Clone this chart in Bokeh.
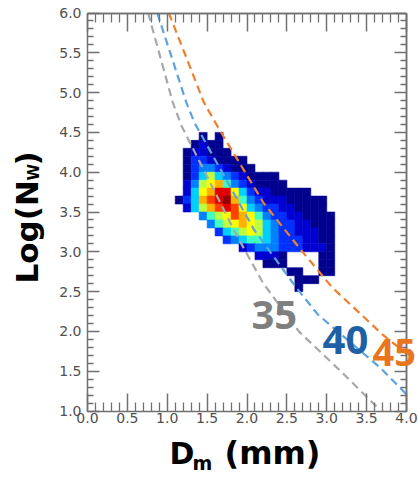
from math import pi
from bokeh.plotting import figure
from bokeh.models import Range1d, LinearAxis, FixedTicker, PrintfTickFormatter, Label
from bokeh.embed import file_html
from bokeh.resources import INLINE

# ---------------- data ----------------
# Dm bin edges (mm) and log10(Nw) bin edges (top -> bottom)
x_bin_edges = [1.1, 1.2, 1.3, 1.4, 1.5, 1.6, 1.7, 1.8, 1.9, 2.0, 2.1,
               2.2, 2.3, 2.4, 2.5, 2.6, 2.7, 2.8, 2.9, 3.0, 3.1]
y_bin_edges = [4.5, 4.4, 4.3, 4.2, 4.1, 4.0, 3.9, 3.8, 3.7, 3.6, 3.5,
               3.4, 3.3, 3.2, 3.1, 3.0, 2.9, 2.8, 2.7, 2.6, 2.5]

# occurrence level per bin (0 = empty, 1..12 = colour level), rows top -> bottom
density_levels = [
    [0, 0, 0, 1, 0, 1, 0, 0, 0, 0, 0, 0, 0, 0, 0, 0, 0, 0, 0, 0],
    [0, 0, 1, 2, 1, 1, 0, 0, 0, 0, 0, 0, 0, 0, 0, 0, 0, 0, 0, 0],
    [0, 1, 2, 2, 1, 1, 1, 0, 0, 0, 0, 0, 0, 0, 0, 0, 0, 0, 0, 0],
    [0, 1, 3, 3, 2, 1, 1, 1, 1, 0, 0, 0, 0, 0, 0, 0, 0, 0, 0, 0],
    [0, 1, 3, 4, 4, 3, 2, 1, 1, 1, 0, 0, 0, 0, 0, 0, 0, 0, 0, 0],
    [0, 1, 3, 5, 7, 5, 4, 3, 2, 1, 1, 1, 1, 0, 0, 0, 0, 0, 0, 0],
    [0, 2, 4, 7, 8, 9, 6, 4, 3, 2, 1, 1, 1, 1, 0, 0, 0, 0, 0, 0],
    [0, 2, 5, 8, 9, 11, 11, 8, 5, 3, 2, 2, 1, 1, 1, 1, 1, 0, 0, 0],
    [1, 3, 5, 9, 10, 11, 12, 9, 6, 4, 3, 2, 2, 2, 1, 1, 1, 1, 1, 0],
    [0, 2, 5, 7, 9, 10, 11, 10, 8, 5, 4, 3, 3, 2, 2, 1, 1, 1, 1, 0],
    [0, 0, 0, 4, 6, 7, 8, 10, 9, 8, 6, 4, 3, 3, 2, 2, 1, 1, 1, 1],
    [0, 0, 0, 0, 4, 6, 7, 8, 9, 8, 7, 5, 4, 3, 3, 2, 2, 1, 1, 1],
    [0, 0, 0, 0, 0, 3, 5, 6, 7, 8, 7, 5, 4, 3, 3, 2, 2, 2, 1, 1],
    [0, 0, 0, 0, 0, 0, 3, 4, 5, 6, 6, 5, 4, 3, 3, 3, 2, 2, 1, 1],
    [0, 0, 0, 0, 0, 0, 0, 0, 2, 3, 4, 4, 4, 3, 3, 3, 2, 2, 2, 1],
    [0, 0, 0, 0, 0, 0, 0, 0, 0, 0, 2, 2, 2, 1, 0, 0, 0, 0, 1, 1],
    [0, 0, 0, 0, 0, 0, 0, 0, 0, 0, 0, 1, 1, 1, 0, 0, 0, 0, 1, 1],
    [0, 0, 0, 0, 0, 0, 0, 0, 0, 0, 0, 0, 0, 0, 1, 1, 0, 0, 1, 1],
    [0, 0, 0, 0, 0, 0, 0, 0, 0, 0, 0, 0, 0, 0, 0, 1, 1, 1, 0, 0],
    [0, 0, 0, 0, 0, 0, 0, 0, 0, 0, 0, 0, 0, 0, 0, 1, 0, 0, 0, 0],
]

# constant-reflectivity curves (dBZ)
z35_dm = [0.76, 1.07, 1.175, 1.88, 2.2, 2.65, 3.175, 3.64]
z35_lognw = [6.0, 4.875, 4.59, 3.19, 2.61, 2.0, 1.5, 1.04]
z40_dm = [0.875, 1.24, 1.34, 2.09, 2.61, 2.89, 3.675, 4.0]
z40_lognw = [6.0, 4.875, 4.625, 3.275, 2.56, 2.21, 1.54, 1.21]
z45_dm = [1.02, 1.46, 1.61, 2.21, 2.675, 3.07, 3.7, 4.0]
z45_lognw = [6.0, 4.875, 4.61, 3.61, 3.025, 2.55, 1.96, 1.72]

curve_labels = ["35", "40", "45"]
curve_label_x = [2.056, 2.947, 3.574]
curve_label_y = [2.200, 1.886, 1.741]
curve_label_size = ["40px", "40px", "38px"]

# axis ticks
x_major_ticks = [0.0, 0.5, 1.0, 1.5, 2.0, 2.5, 3.0, 3.5, 4.0]
y_major_ticks = [1.0, 1.5, 2.0, 2.5, 3.0, 3.5, 4.0, 4.5, 5.0, 5.5, 6.0]
x_minor_ticks = [k / 10 for k in range(0, 41) if k % 5]
y_minor_ticks = [k / 10 for k in range(10, 61) if k % 5]

JET = ["#00008f", "#0000d0", "#0030ff", "#0080ff", "#00d0ff", "#40ffbf",
       "#bfff40", "#ffff00", "#ffb000", "#ff4000", "#e00000", "#900000"]

# ---------------- figure (frame = whole canvas; axes at fixed locations) ----------------
W, H = 418, 476
PXX, PXY = 79.75, 79.6          # pixels per data unit
X0_PX, Y6_PX = 87.0, 12.5       # pixel position of x=0 and y=6
x_start = -X0_PX / PXX
x_end = x_start + W / PXX
y_end = 6.0 + Y6_PX / PXY
y_start = y_end - H / PXY

p = figure(width=W, height=H, x_range=Range1d(x_start, x_end),
           y_range=Range1d(y_start, y_end), output_backend="svg",
           toolbar_location=None, x_axis_location=None, y_axis_location=None,
           title=None, min_border=0)
p.grid.visible = False
p.outline_line_color = None
p.background_fill_color = "white"
p.border_fill_color = "white"

left, right, top, bottom, colors = [], [], [], [], []
for j, row in enumerate(density_levels):
    for i, lev in enumerate(row):
        if lev > 0:
            left.append(x_bin_edges[i])
            right.append(x_bin_edges[i + 1])
            top.append(y_bin_edges[j])
            bottom.append(y_bin_edges[j + 1])
            colors.append(JET[lev - 1])
p.quad(left=left, right=right, top=top, bottom=bottom,
       fill_color=colors, line_color=colors, line_width=0.6)

curve_colors = ["#a8a8a8", "#5ba3e0", "#ef7f2c"]
for xs, ys, c in [(z35_dm, z35_lognw, curve_colors[0]),
                  (z40_dm, z40_lognw, curve_colors[1]),
                  (z45_dm, z45_lognw, curve_colors[2])]:
    p.line(xs, ys, line_color=c, line_width=2.2, line_dash="8 5")

label_colors = ["#7f7f7f", "#1f5fa6", "#e8761e"]
for t, lx, ly, c, fs in zip(curve_labels, curve_label_x, curve_label_y,
                            label_colors, curve_label_size):
    p.add_layout(Label(x=lx, y=ly, text=t, text_color=c, text_font="Open Sans",
                       text_font_style="bold", text_font_size=fs,
                       text_align="left", text_baseline="alphabetic"))

# ---------------- axes ----------------
AX_COLOR = "#707070"

def base_style(ax):
    ax.major_tick_out = 0
    ax.minor_tick_out = 0
    ax.axis_line_color = AX_COLOR
    ax.axis_line_width = 1.5
    ax.major_tick_line_color = AX_COLOR
    ax.major_tick_line_width = 1.5
    ax.minor_tick_line_color = AX_COLOR
    ax.minor_tick_line_width = 1.3
    ax.major_label_text_font = "DejaVu Sans"
    ax.major_label_text_font_size = "14px"
    ax.major_label_text_color = "#505050"
    ax.formatter = PrintfTickFormatter(format="%.1f")

# bottom (labelled)
xb = LinearAxis(fixed_location=1.0, bounds=(0, 4),
                ticker=FixedTicker(ticks=x_major_ticks, minor_ticks=x_minor_ticks))
base_style(xb)
xb.major_tick_in = 18
xb.minor_tick_in = 9
xb.major_label_standoff = 2
p.add_layout(xb, "below")

# left (labelled)
yl = LinearAxis(fixed_location=0.0, bounds=(1, 6),
                ticker=FixedTicker(ticks=y_major_ticks, minor_ticks=y_minor_ticks))
base_style(yl)
yl.major_tick_in = 12
yl.minor_tick_in = 6
yl.major_label_standoff = 6
p.add_layout(yl, "left")

# top and right: tick marks only (no labels)
for ticks, length, side, loc, bnds in [
        (x_major_ticks, 18, "above", 6.0, (0, 4)),
        (x_minor_ticks, 9, "above", 6.0, (0, 4)),
        (y_major_ticks, 12, "right", 4.0, (1, 6)),
        (y_minor_ticks, 6, "right", 4.0, (1, 6))]:
    ax = LinearAxis(fixed_location=loc, bounds=bnds,
                    ticker=FixedTicker(ticks=[], minor_ticks=ticks))
    base_style(ax)
    ax.minor_tick_in = length
    ax.minor_tick_line_width = 1.5 if length > 10 else 1.3
    p.add_layout(ax, side)

# ---------------- axis titles (with subscripts) ----------------
TF = "DejaVu Sans"

def title_piece(x, y, text, size, angle=0.0):
    p.add_layout(Label(x=x, y=y, text=text, angle=angle, text_font=TF,
                       text_font_style="bold", text_font_size=size,
                       text_color="black", text_align="left",
                       text_baseline="alphabetic"))

title_piece(1.028, 0.466, "D", "30px")
title_piece(1.317, 0.344, "m", "19px")
title_piece(1.718, 0.474, "(mm)", "32px")

title_piece(-0.755, 2.602, "Log(N", "31px", pi / 2)
title_piece(-0.665, 3.896, "W", "15px", pi / 2)
title_piece(-0.755, 4.084, ")", "31px", pi / 2)

open("out.html", "w").write(file_html(p, INLINE))
